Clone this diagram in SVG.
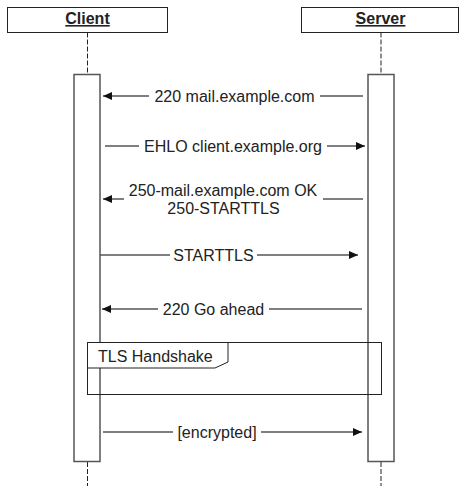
<svg xmlns="http://www.w3.org/2000/svg" width="460" height="486" viewBox="0 0 460 486">
<style>
text{font-family:"Liberation Sans",Arial,sans-serif;font-size:16px;fill:#222}
.hd{font-weight:bold;text-decoration:underline;text-anchor:middle}
.box{fill:#fff;stroke:#222;stroke-width:1}
.life{stroke:#222;stroke-width:1;stroke-dasharray:5 2;fill:none}
.act{fill:#fff;stroke:#555;stroke-width:1.5}
.msg{stroke:#555;stroke-width:1.5;fill:none}
.lbl{text-anchor:middle}
.bg{fill:#fff}
.frame{fill:none;stroke:#222;stroke-width:1}
.tab{fill:#fff;stroke:#222;stroke-width:1}
</style>
<defs>
<marker id="ah" markerUnits="userSpaceOnUse" markerWidth="10" markerHeight="9" refX="9" refY="4.5" orient="auto">
<path d="M0,0.5 L9,4.5 L0,8.5 Z" fill="#111"/>
</marker>
</defs>
<g id="client">
<rect class="box" x="7.5" y="7.5" width="160" height="25"/>
<text class="hd" x="87.5" y="24">Client</text>
<line class="life" x1="87.5" y1="32.5" x2="87.5" y2="74"/>
<line class="life" x1="87.5" y1="462" x2="87.5" y2="486"/>
<rect class="act" x="74" y="74.5" width="26" height="387"/>
</g>
<g id="server">
<rect class="box" x="301.5" y="7.5" width="157" height="25"/>
<text class="hd" x="380.5" y="24">Server</text>
<line class="life" x1="381" y1="32.5" x2="381" y2="74"/>
<line class="life" x1="381" y1="462" x2="381" y2="486"/>
<rect class="act" x="368" y="74.5" width="26" height="387"/>
</g>
<g id="tls-handshake">
<rect class="frame" x="87.5" y="342.5" width="294" height="52"/>
<path class="tab" d="M87.5,342.5 H228 V362 L215,368 H87.5 Z"/>
<text x="98" y="362">TLS Handshake</text>
</g>
<g id="connectors">
<g id="m1">
<line class="msg" x1="363" y1="96" x2="103" y2="96" marker-end="url(#ah)"/>
<rect class="bg" x="149" y="86" width="171" height="20"/>
<text class="lbl" x="234.5" y="101.5">220 mail.example.com</text>
</g>
<g id="m2">
<line class="msg" x1="105" y1="146" x2="365" y2="146" marker-end="url(#ah)"/>
<rect class="bg" x="139" y="136" width="188" height="20"/>
<text class="lbl" x="233" y="151.5">EHLO client.example.org</text>
</g>
<g id="m3">
<line class="msg" x1="363" y1="199" x2="103" y2="199" marker-end="url(#ah)"/>
<rect class="bg" x="124" y="180" width="199" height="38"/>
<text class="lbl" x="223" y="195.5">250-mail.example.com OK</text>
<text class="lbl" x="223.5" y="213.5">250-STARTTLS</text>
</g>
<g id="m4">
<line class="msg" x1="100" y1="255" x2="358" y2="255" marker-end="url(#ah)"/>
<rect class="bg" x="170" y="245" width="87" height="20"/>
<text class="lbl" x="213.5" y="260.5">STARTTLS</text>
</g>
<g id="m5">
<line class="msg" x1="362" y1="309" x2="102" y2="309" marker-end="url(#ah)"/>
<rect class="bg" x="158" y="299" width="111" height="20"/>
<text class="lbl" x="213.5" y="314.5">220 Go ahead</text>
</g>
<g id="m6">
<line class="msg" x1="103" y1="432" x2="362" y2="432" marker-end="url(#ah)"/>
<rect class="bg" x="173" y="422" width="88" height="20"/>
<text class="lbl" x="217" y="437.5">[encrypted]</text>
</g>
</g>
</svg>
